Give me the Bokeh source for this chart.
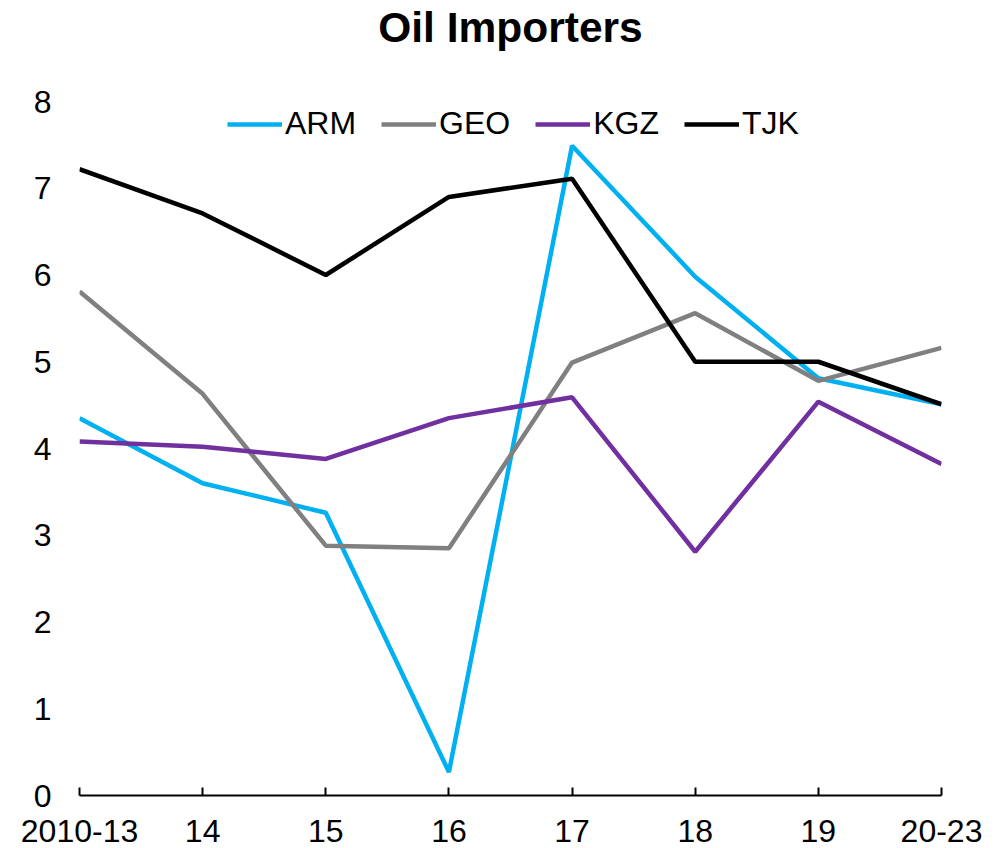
from bokeh.plotting import figure
from bokeh.models import Range1d, FixedTicker, Legend, LegendItem
from bokeh.embed import file_html
from bokeh.resources import INLINE

categories = ["2010-13", "14", "15", "16", "17", "18", "19", "20-23"]
arm = [4.35, 3.60, 3.26, 0.27, 7.49, 5.98, 4.81, 4.51]
geo = [5.81, 4.63, 2.88, 2.85, 4.99, 5.56, 4.78, 5.16]
kgz = [4.08, 4.02, 3.88, 4.35, 4.59, 2.81, 4.54, 3.82]
tjk = [7.22, 6.71, 6.00, 6.90, 7.11, 5.00, 5.00, 4.51]
y_ticks = [0, 1, 2, 3, 4, 5, 6, 7, 8]

series = [("ARM", arm, "#00B0F0"), ("GEO", geo, "#808080"),
          ("KGZ", kgz, "#7030A0"), ("TJK", tjk, "#000000")]

FONT = "Liberation Sans"
x = list(range(len(categories)))

# frame spans 54..795 px; the top tick (8) sits at 101 px
FRAME_TOP, FRAME_BOTTOM, TOP_TICK_PX = 54, 795, 101
y_end = 8 * (FRAME_BOTTOM - FRAME_TOP) / (FRAME_BOTTOM - TOP_TICK_PX)

p = figure(width=1001, height=848, output_backend="svg", toolbar_location=None,
           x_range=Range1d(0, len(categories) - 1), y_range=Range1d(0, y_end),
           min_border_left=79, min_border_right=60, min_border_top=FRAME_TOP,
           min_border_bottom=848 - FRAME_BOTTOM)

p.title.text = "Oil Importers"
p.title.align = "center"
p.title.vertical_align = "top"
p.title.text_font = FONT
p.title.text_font_size = "42.5px"
p.title.text_font_style = "bold"
p.title.text_color = "#000000"
p.title.standoff = 4

p.outline_line_color = None
p.xgrid.grid_line_color = None
p.ygrid.grid_line_color = None

items = []
for name, vals, col in series:
    r = p.line(x, vals, line_color=col, line_width=4.5)
    items.append(LegendItem(label=name, renderers=[r]))

legend = Legend(items=items, orientation="horizontal", location=(148, 653),
                glyph_width=55, glyph_height=20, label_standoff=3, spacing=25,
                label_text_font=FONT, label_text_font_size="32px",
                label_text_color="#000000", margin=0, padding=0,
                border_line_color=None, background_fill_alpha=0)
p.add_layout(legend)

xa = p.xaxis[0]
xa.ticker = FixedTicker(ticks=x)
xa.major_label_overrides = {i: c for i, c in enumerate(categories)}
xa.axis_line_color = "#000000"
xa.axis_line_width = 2
xa.major_tick_line_color = "#000000"
xa.major_tick_line_width = 2
xa.major_tick_in = 8
xa.major_tick_out = 0
xa.minor_tick_line_color = None
xa.major_label_standoff = 24
xa.major_label_text_font = FONT
xa.major_label_text_font_size = "32px"
xa.major_label_text_color = "#000000"

ya = p.yaxis[0]
ya.ticker = FixedTicker(ticks=y_ticks)
ya.axis_line_color = None
ya.major_tick_line_color = None
ya.minor_tick_line_color = None
ya.major_tick_in = 0
ya.major_tick_out = 0
ya.major_label_standoff = 28
ya.major_label_text_font = FONT
ya.major_label_text_font_size = "32px"
ya.major_label_text_color = "#000000"

open("out.html", "w").write(file_html(p, INLINE))
